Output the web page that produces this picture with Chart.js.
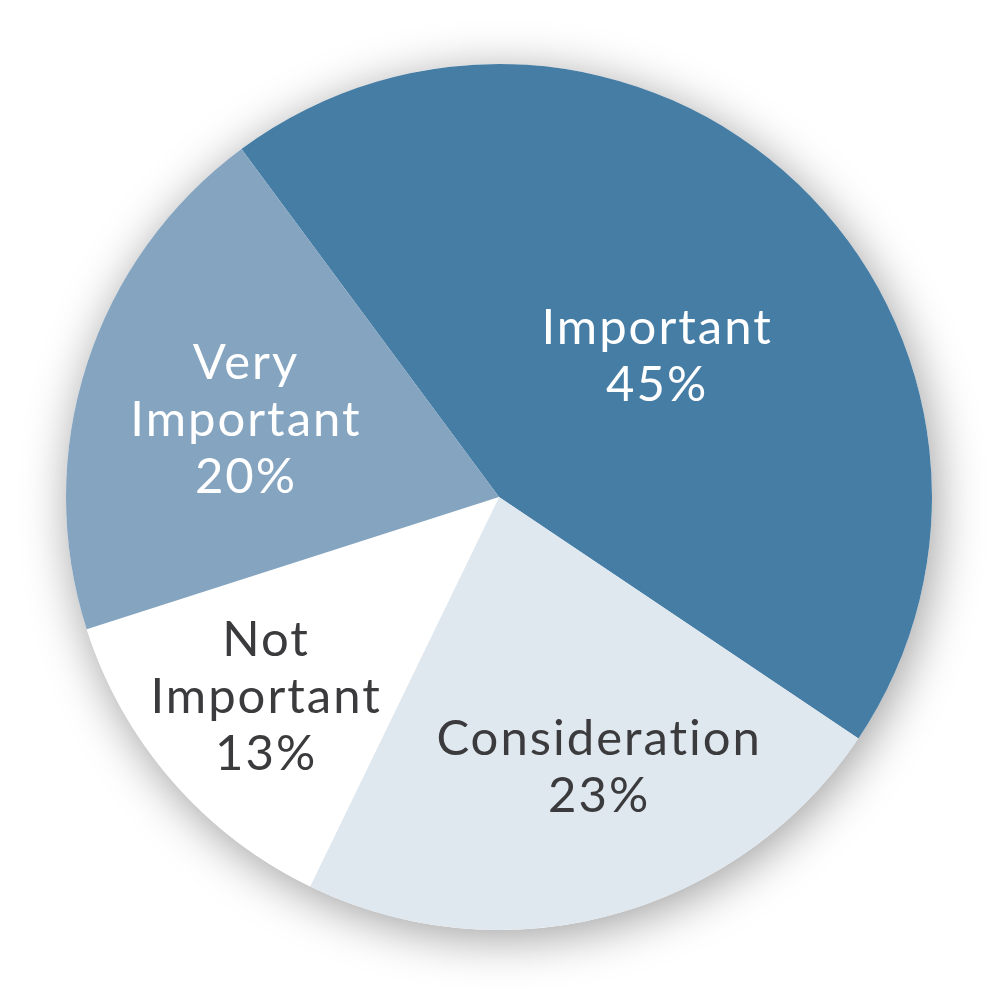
<!DOCTYPE html>
<html>
<head>
<meta charset="utf-8">
<script src="https://cdn.jsdelivr.net/npm/chart.js@4/dist/chart.umd.min.js"></script>
<style>
  html, body { margin: 0; padding: 0; background: #fff; }
  #wrap { width: 1000px; height: 997px; }
</style>
</head>
<body>
<div id="wrap"><canvas id="pie"></canvas></div>
<script>
// Data
const categories = ['Important', 'Consideration', 'Not Important', 'Very Important'];
const labelLines = [['Important'], ['Consideration'], ['Not', 'Important'], ['Very', 'Important']];
const shares = [45, 23, 13, 20];

const sliceColors = ['#467da5', '#dfe7ef', '#ffffff', '#84a4c0'];
const textColors = ['#ffffff', '#3b3b3d', '#3b3b3d', '#ffffff'];
// label placement relative to each slice: fraction of radius, angle nudge (deg)
const labelRadius = [0.486, 0.666, 0.711, 0.613];
const labelShift = [4.6, -5, 0.4, -1];

/**
 * Soft drop shadow behind the whole pie
 */
const pieShadow = {
  id: 'pieShadow',
  beforeDatasetsDraw(chart) {
    const arc = chart.getDatasetMeta(0).data[0];
    if (!arc) return;
    const ctx = chart.ctx;
    ctx.save();
    ctx.shadowColor = 'rgba(0, 0, 0, 0.38)';
    ctx.shadowBlur = 48;
    ctx.shadowOffsetX = 4;
    ctx.shadowOffsetY = 8;
    ctx.fillStyle = '#ffffff';
    ctx.beginPath();
    ctx.arc(arc.x, arc.y, arc.outerRadius, 0, Math.PI * 2);
    ctx.fill();
    ctx.restore();
  },
};

/**
 * Category name and percentage drawn inside each slice
 */
const sliceLabels = {
  id: 'sliceLabels',
  afterDatasetsDraw(chart) {
    const ctx = chart.ctx;
    const meta = chart.getDatasetMeta(0);
    ctx.save();
    ctx.font = '49px Lato, "Noto Sans", sans-serif';
    ctx.letterSpacing = '2px';
    ctx.textAlign = 'center';
    ctx.textBaseline = 'middle';
    meta.data.forEach((arc, i) => {
      const mid = (arc.startAngle + arc.endAngle) / 2 + (labelShift[i] * Math.PI) / 180;
      const r = arc.outerRadius * labelRadius[i];
      const cx = arc.x + Math.cos(mid) * r;
      const cy = arc.y + Math.sin(mid) * r;
      const lines = [...labelLines[i], shares[i] + '%'];
      const lh = 57;
      const top = cy - ((lines.length - 1) * lh) / 2;
      ctx.fillStyle = textColors[i];
      lines.forEach((t, k) => ctx.fillText(t, cx + 1, top + k * lh));
    });
    ctx.restore();
  },
};

new Chart(document.getElementById('pie'), {
  type: 'pie',
  data: {
    labels: categories,
    datasets: [
      {
        data: shares,
        backgroundColor: sliceColors,
        borderWidth: 0,
      },
    ],
  },
  options: {
    responsive: true,
    maintainAspectRatio: false,
    animation: false,
    rotation: -36.5,
    layout: {
      padding: { left: 66, right: 68, top: 64, bottom: 67 },
    },
    plugins: {
      legend: { display: false },
      tooltip: { enabled: false },
    },
  },
  plugins: [pieShadow, sliceLabels],
});
</script>
</body>
</html>
